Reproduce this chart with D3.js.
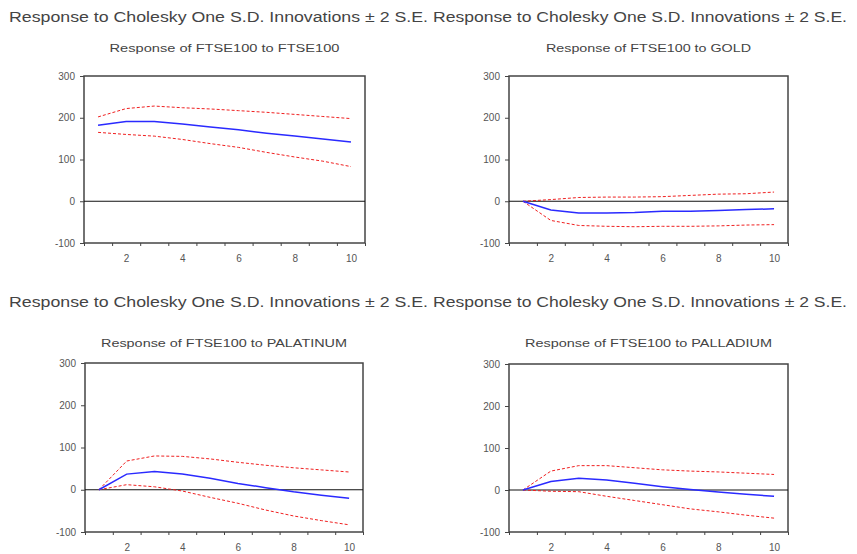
<!DOCTYPE html>
<html>
<head>
<meta charset="utf-8">
<script src="https://cdn.jsdelivr.net/npm/d3@7"></script>
<style>
  body { margin: 0; background: #fff; }
  svg { display: block; font-family: "Liberation Sans", Arial, sans-serif; }
  .tick text { fill: #555; font-size: 10px; }
</style>
</head>
<body>
<div class="chart"></div>
<script>
var svgWidth = 857;
var svgHeight = 554;

// periods and tick labels
var periods = [1, 2, 3, 4, 5, 6, 7, 8, 9, 10];
var xTickLabels = [2, 4, 6, 8, 10];
var yTickLabels = [-100, 0, 100, 200, 300];

var mainTitle = "Response to Cholesky One S.D. Innovations \u00b1 2 S.E.";

// Response of FTSE100 to FTSE100
var ftseMid = [182, 191, 191, 185, 178, 171, 163, 156, 149, 142];
var ftseUp = [202, 222, 228, 224, 221, 217, 213, 208, 203, 198];
var ftseLow = [165, 160, 156, 148, 138, 129, 117, 106, 96, 83];

// Response of FTSE100 to GOLD
var goldMid = [0, -21, -28, -28, -27, -24, -24, -22, -20, -18];
var goldUp = [0, 4, 9, 10, 10, 11, 14, 17, 18, 22];
var goldLow = [0, -46, -58, -60, -61, -60, -60, -59, -57, -56];

// Response of FTSE100 to PALATINUM
var platMid = [0, 37, 43, 37, 27, 15, 5, -5, -13, -20];
var platUp = [0, 68, 80, 79, 73, 65, 58, 52, 47, 42];
var platLow = [0, 12, 7, -3, -18, -32, -48, -62, -73, -83];

// Response of FTSE100 to PALLADIUM
var pallMid = [0, 20, 28, 24, 16, 8, 1, -5, -10, -15];
var pallUp = [0, 45, 58, 58, 53, 48, 45, 43, 40, 37];
var pallLow = [0, -3, -4, -15, -25, -35, -45, -52, -60, -67];

var panels = [
  { title: "Response of FTSE100 to FTSE100", mid: ftseMid, up: ftseUp, low: ftseLow,
    left: 84, right: 365, top: 76, bottom: 243, titleY: 52, titleW: 230 },
  { title: "Response of FTSE100 to GOLD", mid: goldMid, up: goldUp, low: goldLow,
    left: 509, right: 788, top: 76, bottom: 243, titleY: 52, titleW: 205 },
  { title: "Response of FTSE100 to PALATINUM", mid: platMid, up: platUp, low: platLow,
    left: 85, right: 363, top: 363, bottom: 532, titleY: 347, titleW: 246 },
  { title: "Response of FTSE100 to PALLADIUM", mid: pallMid, up: pallUp, low: pallLow,
    left: 509, right: 788, top: 364, bottom: 532, titleY: 347, titleW: 247 }
];

var svg = d3.select(".chart")
  .append("svg")
  .attr("width", svgWidth)
  .attr("height", svgHeight);

// row titles
[22, 307].forEach(function (y) {
  [[9, 419], [433, 414]].forEach(function (p) {
    svg.append("text")
      .attr("x", p[0])
      .attr("y", y)
      .attr("textLength", p[1])
      .attr("lengthAdjust", "spacingAndGlyphs")
      .attr("font-size", "14px")
      .attr("fill", "#444")
      .text(mainTitle);
  });
});

panels.forEach(function (p) {
  var x = d3.scaleLinear().domain([0.5, 10.5]).range([p.left, p.right]);
  var y = d3.scaleLinear().domain([-100, 300]).range([p.bottom, p.top]);

  // subtitle
  svg.append("text")
    .attr("x", (p.left + p.right) / 2)
    .attr("y", p.titleY)
    .attr("text-anchor", "middle")
    .attr("textLength", p.titleW)
    .attr("lengthAdjust", "spacingAndGlyphs")
    .attr("font-size", "11px")
    .attr("fill", "#444")
    .text(p.title);

  // frame
  svg.append("rect")
    .attr("x", p.left)
    .attr("y", p.top)
    .attr("width", p.right - p.left)
    .attr("height", p.bottom - p.top)
    .attr("fill", "none")
    .attr("stroke", "#444")
    .attr("stroke-width", 1.5);

  // y axis (plain hyphen for negatives)
  svg.append("g")
    .attr("transform", `translate(${p.left}, 0)`)
    .call(d3.axisLeft(y).tickValues(yTickLabels).tickSize(4).tickPadding(5)
      .tickFormat(d => String(d)))
    .call(g => g.select(".domain").remove())
    .call(g => g.selectAll(".tick line").attr("stroke", "#444"));

  // x axis: ticks between periods, labels on even periods
  var xg = svg.append("g")
    .attr("transform", `translate(0, ${p.bottom})`);
  xg.call(d3.axisBottom(x).tickValues(d3.range(0.5, 11, 1)).tickSize(3).tickFormat(""))
    .call(g => g.select(".domain").remove())
    .call(g => g.selectAll(".tick line").attr("stroke", "#444"));
  xg.call(g => g.append("g")
    .call(d3.axisBottom(x).tickValues(xTickLabels).tickSize(0).tickPadding(12))
    .call(a => a.select(".domain").remove()));

  // zero line
  svg.append("line")
    .attr("x1", p.left)
    .attr("x2", p.right)
    .attr("y1", y(0))
    .attr("y2", y(0))
    .attr("stroke", "#111")
    .attr("stroke-width", 1.2);

  var line = d3.line()
    .x((d, i) => x(periods[i]))
    .y(d => y(d));

  [p.up, p.low].forEach(function (band) {
    svg.append("path")
      .datum(band)
      .attr("d", line)
      .attr("fill", "none")
      .attr("stroke", "#f02020")
      .attr("stroke-width", 1)
      .attr("stroke-dasharray", "3,2");
  });

  svg.append("path")
    .datum(p.mid)
    .attr("d", line)
    .attr("fill", "none")
    .attr("stroke", "#2a2aff")
    .attr("stroke-width", 1.5);
});
</script>
</body>
</html>
